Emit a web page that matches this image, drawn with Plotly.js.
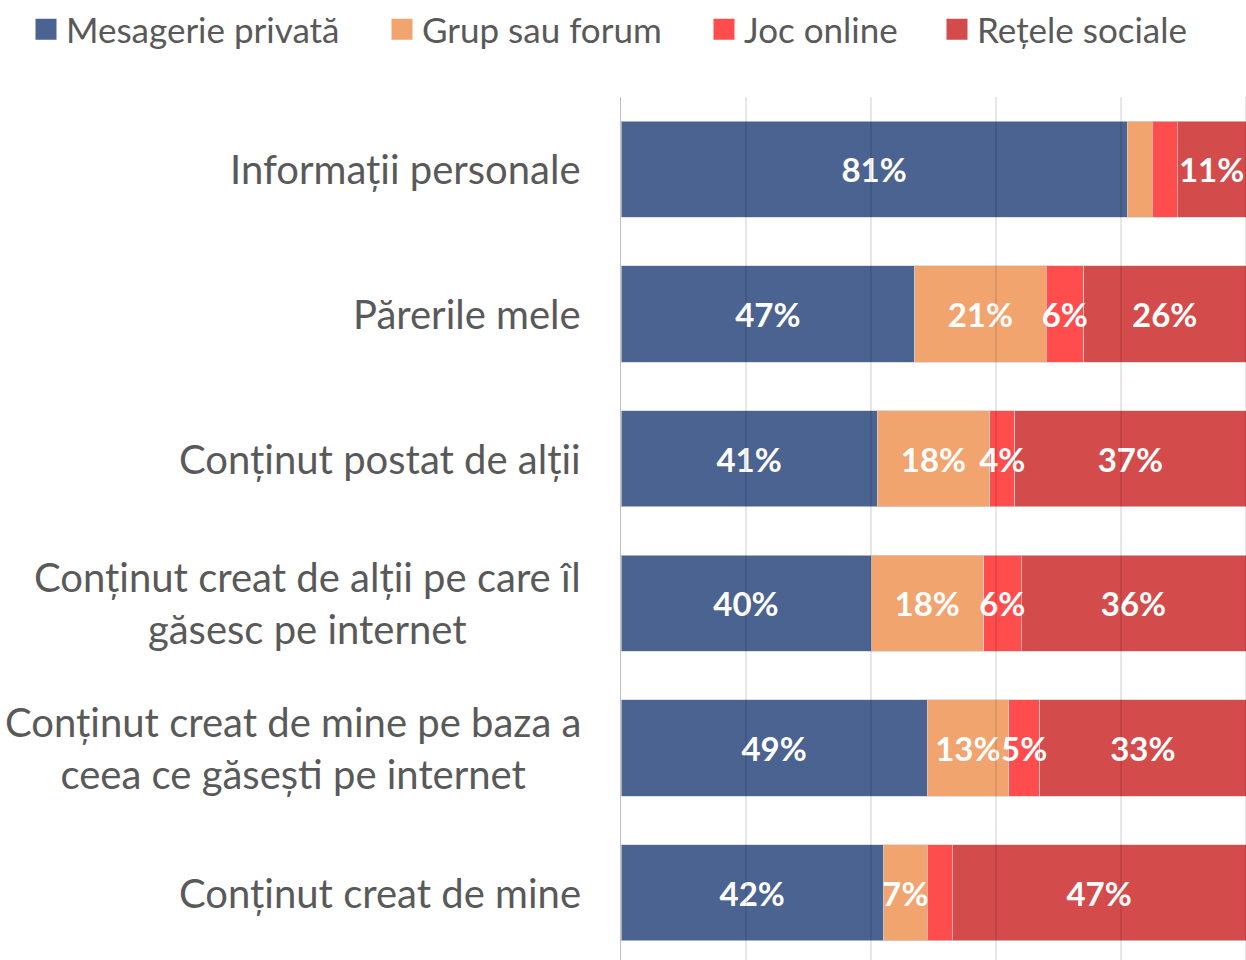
<!DOCTYPE html>
<html><head><meta charset="utf-8">
<script src="https://cdn.plot.ly/plotly-3.0.1.min.js"></script>
<style>html,body{margin:0;padding:0;overflow:hidden;background:#fff}</style>
</head><body>
<div id="chart" style="width:1246px;height:965px"></div>
<script>
const categories = [
  "Informații personale",
  "Părerile mele",
  "Conținut postat de alții",
  "Conținut creat de alții pe care îl<br>găsesc pe internet",
  "Conținut creat de mine pe baza a<br>ceea ce găsești pe internet",
  "Conținut creat de mine"
];
const seriesNames = ["Mesagerie privată", "Grup sau forum", "Joc online", "Rețele sociale"];
const mesagerie = [81, 47, 41, 40, 49, 42];
const grup      = [4, 21, 18, 18, 13, 7];
const joc       = [4, 6, 4, 6, 5, 4];
const retele    = [11, 26, 37, 36, 33, 47];
// which labels are shown (the reference omits some small ones)
const showMes = [1,1,1,1,1,1];
const showGrup = [0,1,1,1,1,1];
const showJoc = [0,1,1,1,1,0];
const showRet = [1,1,1,1,1,1];
const gridVals = [20, 40, 60, 80, 100];

const colors = ["#4b6390", "#f2a46f", "#ff4d4d", "#d44b4b"];
const legendX = [26, 382, 704, 937];   // legend entry positions (px)
const allVals = [mesagerie, grup, joc, retele];
const allShow = [showMes, showGrup, showJoc, showRet];
const FONT = "Lato, 'Open Sans', sans-serif";
const W = 1246, H = 965;

// coloured bars (no text)
const traces = allVals.map((vals, i) => ({
  type: "bar",
  orientation: "h",
  name: seriesNames[i],
  y: categories,
  x: vals,
  textposition: "none",
  marker: {color: colors[i], line: {color: "rgba(210,210,210,0.7)", width: 1}},
  showlegend: false,
  hoverinfo: "x+name"
}));
// same stack on an overlaid axis pair, transparent, carrying the labels above all bars
allVals.forEach((vals, i) => traces.push({
  type: "bar",
  orientation: "h",
  name: seriesNames[i],
  y: categories,
  x: vals,
  xaxis: "x2", yaxis: "y2",
  text: vals.map((v, k) => allShow[i][k] ? v + "%" : ""),
  textposition: "inside",
  insidetextanchor: "middle",
  textangle: 0,
  constraintext: "none",
  textfont: {family: FONT, size: 33, color: "#ffffff", weight: "bold"},
  marker: {color: "rgba(0,0,0,0)", line: {width: 0}},
  showlegend: false,
  hoverinfo: "skip"
}));

const legendNames = ["legend", "legend2", "legend3", "legend4"];
seriesNames.forEach((n, i) => traces.push({
  type: "scatter", mode: "markers", name: n,
  x: [null], y: [categories[0]],
  marker: {symbol: "square", size: 16, color: colors[i], line: {color: colors[i], width: 5}},
  showlegend: true, hoverinfo: "skip", legend: legendNames[i]
}));

const annotations = categories.map(c => ({
  xref: "paper", yref: "y", x: 0, y: c, xanchor: "right", yanchor: "middle",
  xshift: -38, text: c, showarrow: false, align: "center",
  font: {family: FONT, size: 40, color: "#595959"}
}));

const shapes = gridVals.map(v => ({
  type: "line", xref: "x", yref: "paper", x0: v, x1: v, y0: 0, y1: 1,
  layer: "above", line: {color: "rgba(0,0,0,0.13)", width: 1.5}
}));

const layout = {
  width: W, height: H,
  margin: {l: 621, r: 0, t: 97, b: 0},
  barmode: "stack",
  bargap: 0.335,
  paper_bgcolor: "#ffffff", plot_bgcolor: "#ffffff",
  font: {family: FONT, color: "#595959"},
  xaxis: {range: [0, 100], showgrid: false, zeroline: false, showticklabels: false, fixedrange: true},
  yaxis: {type: "category", categoryarray: categories, autorange: "reversed",
          showticklabels: false, showline: true, linecolor: "#bfbfbf", linewidth: 1.5,
          ticks: "", showgrid: false, zeroline: false},
  xaxis2: {overlaying: "x", range: [0, 100], showgrid: false, zeroline: false,
           showticklabels: false, showline: false, ticks: ""},
  yaxis2: {overlaying: "y", type: "category", categoryarray: categories, autorange: "reversed",
           showticklabels: false, showline: false, ticks: "", showgrid: false, zeroline: false},
  showlegend: true,
  annotations: annotations,
  shapes: shapes
};
legendNames.forEach((ln, i) => {
  layout[ln] = {orientation: "h", xref: "container", yref: "container",
    x: legendX[i] / W, y: 1, xanchor: "left", yanchor: "top",
    bgcolor: "rgba(0,0,0,0)",
    font: {family: FONT, size: 35, color: "#595959"}, itemwidth: 30};
});

Plotly.newPlot("chart", traces, layout, {displayModeBar: false, staticPlot: true});
</script>
</body></html>
